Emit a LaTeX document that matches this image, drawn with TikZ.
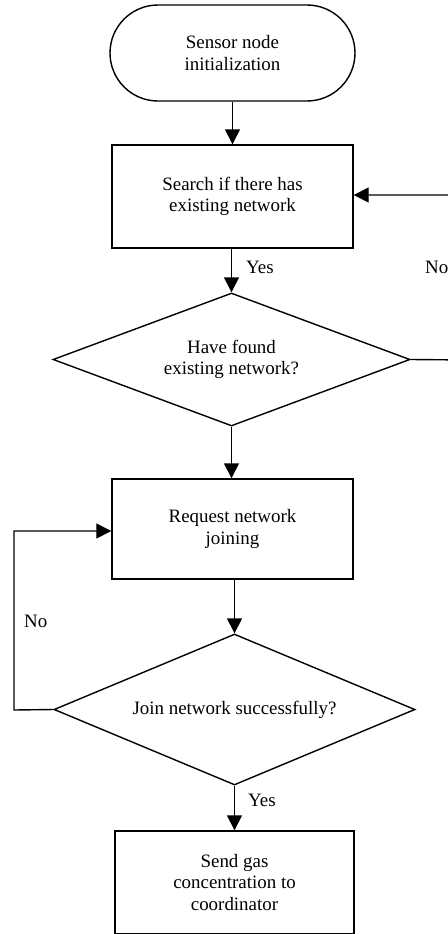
\documentclass[tikz,border=0pt]{standalone}
\usepackage{fontspec}
\setmainfont{Liberation Serif}
\usetikzlibrary{shapes.geometric,arrows.meta}
\begin{document}
\begin{tikzpicture}[x=1bp,y=-1bp,
  every node/.style={font=\fontsize{19}{21.7}\selectfont},
  proc/.style={draw,line width=1.4bp,align=center,inner sep=0pt},
  decis/.style={draw,line width=1.4bp,shape=diamond,align=center,inner sep=0pt},
  arr/.style={line width=1.4bp,-{Triangle[length=15bp,width=15bp]}},
  lbl/.style={inner sep=0pt,anchor=west}]
\useasboundingbox (0,0) rectangle (448,934);
\clip (0,0) rectangle (448,934);
\node[proc,rounded corners=48bp,minimum width=245bp,minimum height=96bp] (init) at (232.5,53) {Sensor node\\initialization};
\node[proc,minimum width=241bp,minimum height=103bp] (search) at (232.5,196.5) {Search if there has\\existing network};
\node[decis,minimum width=357bp,minimum height=133bp,aspect=2.68] (found) at (231.5,359.5) {Have found\\existing network?};
\node[proc,minimum width=241bp,minimum height=100bp] (req) at (232.5,529) {Request network\\joining};
\node[decis,minimum width=361bp,minimum height=151bp,aspect=2.39] (join) at (234.5,709.5) {Join network successfully?};
\node[proc,minimum width=239bp,minimum height=103bp] (send) at (234.5,882.5) {Send gas\\concentration to\\coordinator};
\coordinate (r1) at (470,360);
\coordinate (r2) at (470,195);
\coordinate (l1) at (14,710);
\coordinate (l2) at (14,531);
\draw[arr] (init.south) -- (search.north);
\draw[arr] (found.north |- search.south) -- (found.north);
\draw[arr] (found.south) -- (found.south |- req.north);
\draw[arr] (join.north |- req.south) -- (join.north);
\draw[arr] (join.south) -- (send.north);
\draw[arr] (found.east) -- (r1) -- (r2) -- (search.east |- r2);
\draw[arr] (join.west) -- (l1) -- (l2) -- (req.west |- l2);
\node[lbl] (yes1) at (246,267) {Yes};
\node[lbl] (yes2) at (248,800) {Yes};
\node[lbl] (no1) at (425,267) {No};
\node[lbl] (no2) at (24,621) {No};
\end{tikzpicture}
\end{document}
